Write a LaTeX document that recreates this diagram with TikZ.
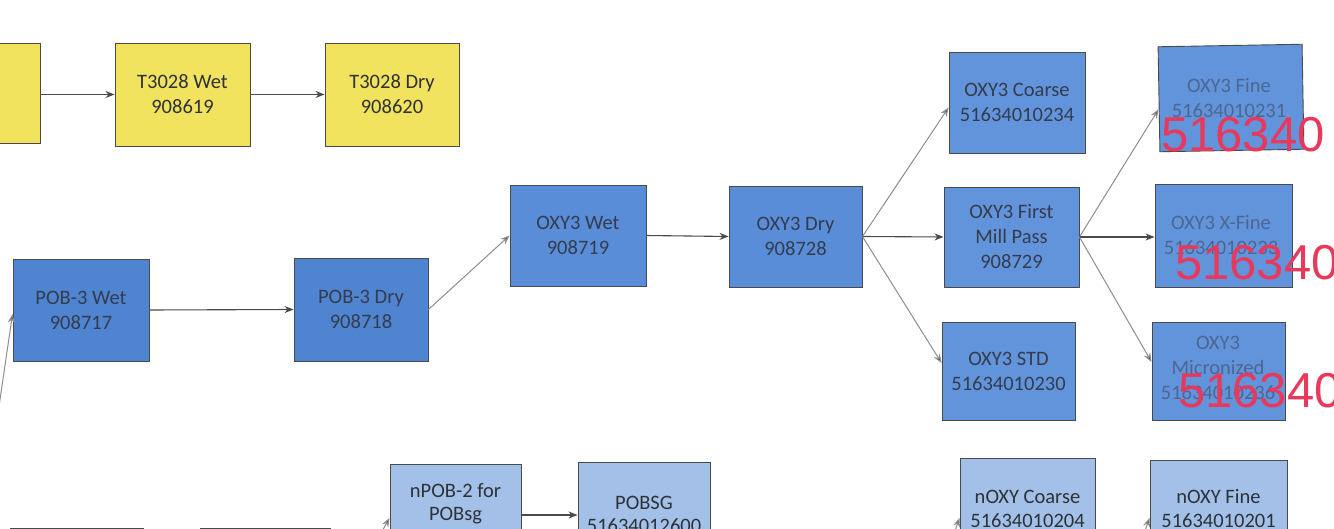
\documentclass[tikz,border=0pt]{standalone}
\usepackage{fontspec}
\setmainfont{Carlito}
\newfontfamily\redfont{Liberation Sans}
\usetikzlibrary{arrows.meta}
\definecolor{yel}{HTML}{F2E35E}
\definecolor{blueA}{HTML}{5A8DD8}
\definecolor{blueB}{HTML}{4F84D0}
\definecolor{blueC}{HTML}{6294DB}
\definecolor{blueL}{HTML}{A3C1E8}
\definecolor{edge}{HTML}{4A4A4A}
\definecolor{txt}{HTML}{2E3138}
\definecolor{txtb}{HTML}{343C4E}
\definecolor{faded}{HTML}{46577A}
\definecolor{redmark}{HTML}{E8395C}
\definecolor{arr}{HTML}{4A4A4A}
\definecolor{arrl}{HTML}{8E8E8E}
\tikzset{
  box/.style={draw=edge, line width=0.9pt, inner sep=0pt, align=center,
    font=\fontsize{20.5}{25}\selectfont},
  ybox/.style={box, fill=yel, text=txt},
  bbox/.style={box, fill=blueA, text=txtb},
  dbox/.style={box, fill=blueB, text=txtb},
  rbox/.style={box, fill=blueC, text=txtb},
  lbox/.style={box, fill=blueL},
  ltext/.style={inner sep=0pt, text=txt, font=\fontsize{20.5}{25}\selectfont},
  fadedtext/.style={inner sep=0pt, text=faded, text opacity=0.75, align=center,
    font=\fontsize{20.5}{25}\selectfont},
  redtxt/.style={inner sep=0pt, text=redmark, font=\redfont\fontsize{49}{49}\selectfont},
  harrow/.style={draw=arr, line width=1.1pt, -{Stealth[length=9pt,width=7pt]}},
  darrow/.style={draw=arrl, line width=1pt, -{Stealth[length=9pt,width=7pt,fill=arr]}}
}
\begin{document}
\begin{tikzpicture}[x=1pt,y=-1pt]
\useasboundingbox (0,0) rectangle (1334,529);
\clip (0,0) rectangle (1334,529);
\fill[white] (0,0) rectangle (1334,529);
% yellow row
\node[ybox, minimum width=100pt, minimum height=100pt] (y0) at (-10,93) {};
\node[ybox, minimum width=135pt, minimum height=103pt] (t3wet) at (182.5,94.5) {T3028 Wet\\908619};
\node[ybox, minimum width=134pt, minimum height=103pt] (t3dry) at (392,94.5) {T3028 Dry\\908620};
% main row
\node[dbox, minimum width=136pt, minimum height=102pt] (pwet) at (81,310) {POB-3 Wet\\908717};
\node[dbox, minimum width=134pt, minimum height=103pt] (pdry) at (361,309.5) {POB-3 Dry\\908718};
\node[bbox, minimum width=136pt, minimum height=101pt] (owet) at (578,235.5) {OXY3 Wet\\908719};
\node[bbox, minimum width=133pt, minimum height=101pt] (odry) at (795.5,236.5) {OXY3 Dry\\908728};
\node[rbox, minimum width=136pt, minimum height=101pt] (coarse) at (1017,102.5) {OXY3 Coarse\\51634010234};
\node[rbox, minimum width=135pt, minimum height=100pt] (mill) at (1011.5,237) {OXY3 First\\Mill Pass\\908729};
\node[rbox, minimum width=133pt, minimum height=98pt] (std) at (1008.5,371) {OXY3 STD\\51634010230};
% right column (overlaid)
\node[rbox, minimum width=144pt, minimum height=105pt, rotate=1] (fine) at (1231,98) {};
\node[fadedtext] (finet) at (1229,98) {OXY3 Fine\\51634010231};
\node[rbox, minimum width=137pt, minimum height=103pt] (xfine) at (1223.5,235.5) {};
\node[fadedtext] (xfinet) at (1221,235) {OXY3 X-Fine\\51634010233};
\node[rbox, minimum width=133pt, minimum height=98pt] (micro) at (1218.5,371) {};
\node[fadedtext] (microt) at (1218,368) {OXY3\\Micronized\\51634010236};
% bottom row
\node[lbox, minimum width=133pt, minimum height=100pt] (bl1) at (76.5,578) {};
\node[lbox, minimum width=130pt, minimum height=100pt] (bl2) at (265,578) {};
\node[lbox, minimum width=131pt, minimum height=100pt] (npob) at (455.5,514) {};
\node[ltext, anchor=base] (npobt1) at (455.5,497) {nPOB-2 for};
\node[ltext, anchor=base] (npobt2) at (455.5,520) {POBsg};
\node[lbox, minimum width=132pt, minimum height=100pt] (pobsg) at (644,512) {};
\node[ltext, anchor=base] (pobsgt1) at (644,509) {POBSG};
\node[ltext, anchor=base] (pobsgt2) at (644,532) {51634012600};
\node[lbox, minimum width=135pt, minimum height=100pt] (ncoarse) at (1027.5,508) {};
\node[ltext, anchor=base] (ncoarset1) at (1027.5,503) {nOXY Coarse};
\node[ltext, anchor=base] (ncoarset2) at (1027.5,527) {51634010204};
\node[lbox, minimum width=137pt, minimum height=100pt] (nfine) at (1218.5,510) {};
\node[ltext, anchor=base] (nfinet1) at (1218.5,503) {nOXY Fine};
\node[ltext, anchor=base] (nfinet2) at (1218.5,527) {51634010201};
% free ends
\coordinate (c1) at (-3,420);
\coordinate (c2) at (376,542);
\coordinate (c3) at (951,542);
\coordinate (c4) at (1141,542);
\coordinate (np) at ([yshift=-1pt]npob.east);
% connectors
\draw[harrow] (y0.east |- t3wet.west) -- (t3wet.west);
\draw[harrow] (t3wet.east) -- (t3dry.west);
\draw[darrow] (c1) -- ([yshift=-4pt]pwet.west);
\draw[harrow] (pwet.east) -- (pdry.west);
\draw[darrow] (pdry.east) -- (owet.west);
\draw[harrow] (owet.east) -- (odry.west);
\draw[darrow] (odry.east) -- ([yshift=-5pt]coarse.west);
\draw[harrow] (odry.east) -- (mill.west);
\draw[darrow] (odry.east) -- ([yshift=8pt]std.west);
\draw[darrow] (mill.east) -- ([yshift=-10pt]fine.west);
\draw[harrow] (mill.east) -- (xfine.west |- mill.east);
\draw[darrow] (mill.east) -- ([yshift=9pt]micro.west);
\draw[darrow] (c2) -- ([yshift=-4pt]npob.west);
\draw[harrow] (np) -- (pobsg.west |- np);
\draw[darrow] (c3) -- ([yshift=-10pt]ncoarse.west);
\draw[darrow] (c4) -- ([yshift=-8pt]nfine.west);
% red overlay text
\node[redtxt, anchor=base west] (r1) at (1161,152) {516340};
\node[redtxt, anchor=base west] (r2) at (1175,280) {516340};
\node[redtxt, anchor=base west] (r3) at (1178,407) {516340};
\end{tikzpicture}
\end{document}
